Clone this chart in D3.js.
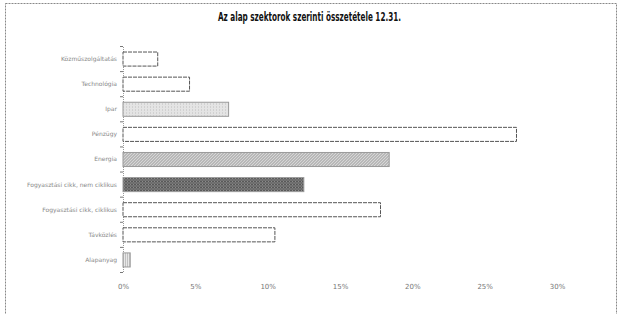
<!DOCTYPE html>
<html>
<head>
<meta charset="utf-8">
<script src="https://cdn.jsdelivr.net/npm/d3@7"></script>
<style>
  body { margin: 0; background: #fff; }
  svg { display: block; }
</style>
</head>
<body>
<div id="chart"></div>
<script>
// adatok (felülről lefelé)
const categories = [
  "Közműszolgáltatás",
  "Technológia",
  "Ipar",
  "Pénzügy",
  "Energia",
  "Fogyasztási cikk, nem ciklikus",
  "Fogyasztási cikk, ciklikus",
  "Távközlés",
  "Alapanyag"
];
const values = [2.4, 4.6, 7.3, 27.2, 18.4, 12.5, 17.8, 10.5, 0.5];
const fills = ["none", "none", "dots", "none", "hatch", "cross", "none", "none", "fine"];
const xTicks = [0, 5, 10, 15, 20, 25, 30];
const title = "Az alap szektorok szerinti összetétele 12.31.";

const W = 622, H = 314;
const margin = { top: 46.5, right: 65, bottom: 41.5, left: 123 };
const width = W - margin.left - margin.right;
const height = H - margin.top - margin.bottom;

const svgRoot = d3.select("#chart").append("svg")
  .attr("width", W)
  .attr("height", H);

// mintázatok
const defs = svgRoot.append("defs");
const pDots = defs.append("pattern").attr("id", "dots")
  .attr("width", 3).attr("height", 3).attr("patternUnits", "userSpaceOnUse");
pDots.append("rect").attr("width", 3).attr("height", 3).attr("fill", "#e4e4e4");
pDots.append("rect").attr("width", 1).attr("height", 1).attr("fill", "#bdbdbd");

const pHatch = defs.append("pattern").attr("id", "hatch")
  .attr("width", 3).attr("height", 3).attr("patternUnits", "userSpaceOnUse");
pHatch.append("rect").attr("width", 3).attr("height", 3).attr("fill", "#d6d6d6");
pHatch.append("path").attr("d", "M0,3 L3,0").attr("stroke", "#8a8a8a").attr("stroke-width", 0.8);

const pCross = defs.append("pattern").attr("id", "cross")
  .attr("width", 3).attr("height", 3).attr("patternUnits", "userSpaceOnUse");
pCross.append("rect").attr("width", 3).attr("height", 3).attr("fill", "#8c8c8c");
pCross.append("path").attr("d", "M0,0 L3,3 M0,3 L3,0").attr("stroke", "#4a4a4a").attr("stroke-width", 0.8);

const pFine = defs.append("pattern").attr("id", "fine")
  .attr("width", 2).attr("height", 2).attr("patternUnits", "userSpaceOnUse");
pFine.append("rect").attr("width", 2).attr("height", 2).attr("fill", "#e8e8e8");
pFine.append("rect").attr("width", 1).attr("height", 1).attr("fill", "#9a9a9a");

// keret
svgRoot.append("rect")
  .attr("x", 5.5).attr("y", 3.5)
  .attr("width", 611).attr("height", 330)
  .attr("fill", "none")
  .attr("stroke", "#888")
  .attr("stroke-width", 1)
  .attr("stroke-dasharray", "2,1");

svgRoot.append("text")
  .attr("x", 218).attr("y", 21)
  .attr("textLength", 183)
  .attr("lengthAdjust", "spacingAndGlyphs")
  .style("font-family", "'Liberation Sans Narrow', 'DejaVu Sans Condensed', sans-serif")
  .style("font-weight", "bold")
  .style("font-size", "11.5px")
  .style("fill", "#111")
  .text(title);

const svg = svgRoot.append("g")
  .attr("transform", `translate(${margin.left},${margin.top})`);

const x = d3.scaleLinear().domain([0, 30]).range([0, width]);
const y = d3.scaleBand().domain(categories).range([0, height])
  .paddingInner(0.44).paddingOuter(0.22);

// x tengely (csak feliratok)
const xAxis = svg.append("g")
  .attr("transform", `translate(0,${height})`)
  .call(d3.axisBottom(x).tickValues(xTicks).tickFormat(d => d + "%").tickSize(0).tickPadding(12));
xAxis.select(".domain").remove();
xAxis.selectAll("text")
  .style("font-family", "'DejaVu Sans', sans-serif")
  .style("font-size", "7px")
  .style("fill", "#777");

// y tengely
const yAxis = svg.append("g")
  .call(d3.axisLeft(y).tickSize(0).tickPadding(6));
yAxis.select(".domain").attr("stroke", "#999").attr("stroke-dasharray", "1,1");
yAxis.selectAll("text")
  .style("font-family", "'DejaVu Sans', sans-serif")
  .style("font-size", "6px")
  .style("fill", "#888");

// osztásjelek a kategóriák között
const step = y.step();
svg.append("g").selectAll("line")
  .data(d3.range(categories.length + 1))
  .enter().append("line")
    .attr("x1", -3).attr("x2", 0)
    .attr("y1", d => d * step)
    .attr("y2", d => d * step)
    .attr("stroke", "#777")
    .attr("stroke-width", 1);

// oszlopok
svg.selectAll(".bar")
  .data(categories.map((c, i) => ({ c, v: values[i], f: fills[i] })))
  .enter().append("rect")
    .attr("class", "bar")
    .attr("x", x(0))
    .attr("y", d => y(d.c))
    .attr("width", d => x(d.v) - x(0))
    .attr("height", y.bandwidth())
    .attr("fill", d => d.f === "none" ? "#fff" : `url(#${d.f})`)
    .attr("stroke", d => d.f === "none" ? "#555" : "#9a9a9a")
    .attr("stroke-width", 1)
    .attr("stroke-dasharray", d => d.f === "none" ? "4,1" : null);
</script>
</body>
</html>
